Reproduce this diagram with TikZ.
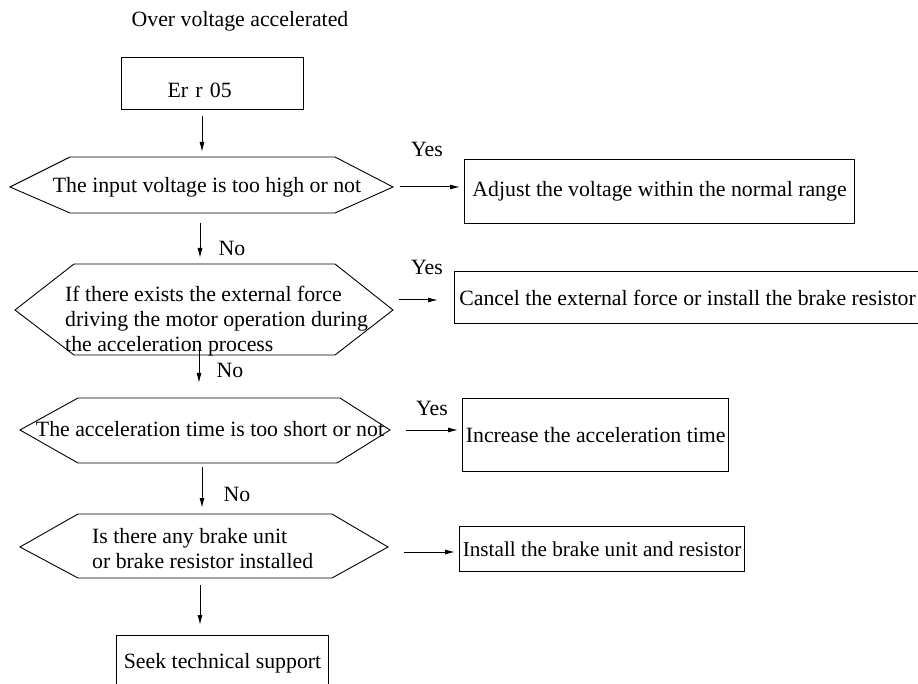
\documentclass[tikz,border=0pt]{standalone}
\usepackage{fontspec}
\setmainfont{Liberation Serif}
\usetikzlibrary{arrows.meta, calc}

\tikzset{
    box/.style={draw, line width=1.1pt, anchor=north west, inner ysep=0pt},
    flow/.style={-{Latex[length=10pt, width=5pt]}, line width=1pt},
    hexline/.style={line width=0.9pt}
}

\begin{document}
\begin{tikzpicture}[x=1pt, y=-1pt, font=\fontsize{21.8}{25}\selectfont]
    \clip (0,0) rectangle (918,684);

    % Title
    \node (title) at (240,21) {Over voltage accelerated};

    % Fault code
    \node[box, minimum height=52pt, align=left, inner xsep=46pt, text width=90pt,
        text height=28pt, text depth=0pt] (err) at (121,57) {Er r 05};

    % Question 1: input voltage
    \draw[hexline] (10,187) coordinate (h1w) -- (70,157) -- (202,157) coordinate (h1n) -- (335,157)
        -- (393,187) coordinate (h1e) -- (335,213) -- (200,213) coordinate (h1s) -- (70,213) -- cycle;
    \node (q1) at (207,187) {The input voltage is too high or not};

    % Question 2: external force
    \draw[hexline] (15,310) coordinate (h2w) -- (74,264) -- (200,264) coordinate (h2n) -- (335,264)
        -- (393,310) coordinate (h2e) -- (335,355) -- (199,355) coordinate (h2s) -- (74,355) -- cycle;
    \node[anchor=west, align=left, inner sep=0pt] (q2) at (65,321)
        {If there exists the external force\\driving the motor operation during\\the acceleration process};

    % Question 3: acceleration time
    \draw[hexline] (20,430) coordinate (h3w) -- (78,398) -- (199,398) coordinate (h3n) -- (340,398)
        -- (390,430) coordinate (h3e) -- (337,463) -- (202,463) coordinate (h3s) -- (78,463) -- cycle;
    \node (q3) at (210,429) {The acceleration time is too short or not};

    % Question 4: brake unit
    \draw[hexline] (20,547) coordinate (h4w) -- (78,514) -- (202,514) coordinate (h4n) -- (332,514)
        -- (388,547) coordinate (h4e) -- (332,578) -- (200,578) coordinate (h4s) -- (78,578) -- cycle;
    \node[anchor=west, align=left, inner sep=0pt] (q4) at (92,549)
        {Is there any brake unit\\or brake resistor installed};

    % Remedies
    \node[box, minimum width=390pt, minimum height=64pt] (b1) at (464,159) {Adjust the voltage within the normal range};
    \node[box, minimum width=466pt, minimum height=52pt] (b2) at (454,271) {Cancel the external force or install the brake resistor};
    \node[box, minimum width=266pt, minimum height=73pt] (b3) at (462,398) {Increase the acceleration time};
    \node[box, minimum width=285pt, minimum height=45pt, inner xsep=0pt, font=\fontsize{21.2}{25}\selectfont] (b4) at (459,526) {Install the brake unit and resistor};
    \node[box, minimum width=212pt, minimum height=55pt] (end) at (116,635) {Seek technical support};

    % Main column
    \draw[flow, shorten <=6pt, shorten >=5pt] (err.south -| h1n) -- (h1n);
    \draw[flow, shorten <=10pt, shorten >=6pt] (h1s) -- (h2n);
    \draw[flow, shorten >=15pt] ([yshift=12pt]h2s) -- (h3n);
    \draw[flow, shorten <=4pt, shorten >=6pt] (h3s) -- (h4n);
    \draw[flow, shorten <=7pt, shorten >=10pt] (h4s) -- (h4s |- end.north);

    % Yes branches
    \draw[flow, shorten <=7pt, shorten >=4pt] (h1e) -- (h1e -| b1.west);
    \draw[flow, shorten <=6pt, shorten >=16pt] ([yshift=10pt]h2e) -- ([yshift=10pt]h2e -| b2.west);
    \draw[flow, shorten <=16pt, shorten >=4pt] (h3e) -- (h3e -| b3.west);
    \draw[flow, shorten <=16pt, shorten >=4pt] ([yshift=-5pt]h4e) -- ([yshift=-5pt]h4e -| b4.west);

    % Labels
    \node (yes1) at (427,149) {Yes};
    \node (no1) at (232,248) {No};
    \node (yes2) at (427,267) {Yes};
    \node (no2) at (230,370) {No};
    \node (yes3) at (432,408) {Yes};
    \node (no3) at (237,494) {No};

\end{tikzpicture}
\end{document}
